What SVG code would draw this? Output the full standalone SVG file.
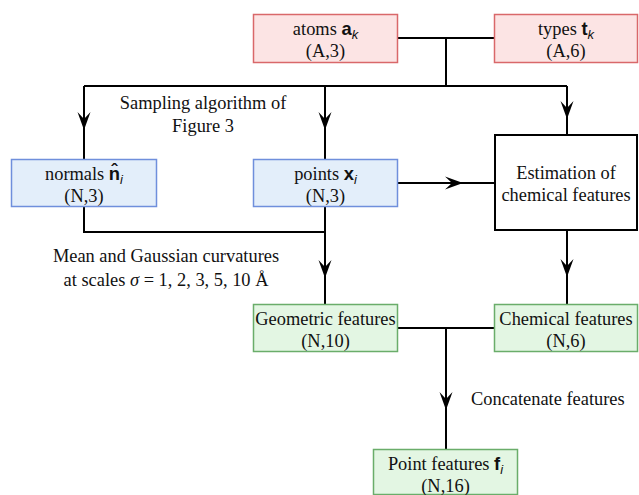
<svg xmlns="http://www.w3.org/2000/svg" width="639" height="495" viewBox="0 0 639 495">
<style>
  .t { font-family: "Liberation Serif", "Times New Roman", serif; font-size: 18.4px; fill: #111; text-anchor: middle; }
  .tl { font-family: "Liberation Serif", "Times New Roman", serif; font-size: 18.4px; fill: #111; }
  .m { font-family: "Liberation Sans", "DejaVu Sans", sans-serif; font-weight: bold; font-size: 18.4px; }
  .s { font-family: "Liberation Sans", "DejaVu Sans", sans-serif; font-style: italic; font-size: 13px; }
  .red { fill: #fce4e4; stroke: #d9686a; stroke-width: 1.5; }
  .blue { fill: #e3eefa; stroke: #6f8fdc; stroke-width: 1.5; }
  .green { fill: #e3f6e3; stroke: #6aad6a; stroke-width: 1.5; }
  .black { fill: #ffffff; stroke: #000; stroke-width: 2; }
  .c { fill: none; stroke: #000; stroke-width: 2; }
  .a { fill: none; stroke: #000; stroke-width: 2; marker-mid: url(#arr); }
</style>
<defs>
  <marker id="arr" markerUnits="userSpaceOnUse" viewBox="-19 -8 20 16" refX="0" refY="0" markerWidth="20" markerHeight="16" orient="auto">
    <path d="M0,0 L-18,-6.5 L-11,0 L-18,6.5 Z" fill="#000"/>
  </marker>
</defs>

<g id="connectors">
  <path class="c" d="M398,38 H494"/>
  <path class="c" d="M446,38 V86"/>
  <path class="c" d="M84,86 H567"/>
  <path class="a" d="M84,86 V130 V159"/>
  <path class="a" d="M325,86 V130 V159"/>
  <path class="a" d="M567,86 V119 V134"/>
  <path class="a" d="M398,183 H463 H494"/>
  <path class="c" d="M84,207 V232 H325"/>
  <path class="a" d="M325,207 V278 V304"/>
  <path class="a" d="M567,231 V277 V304"/>
  <path class="c" d="M398,328 H494"/>
  <path class="a" d="M446,328 V410 V449"/>
</g>

<g id="atoms">
  <rect class="red" x="253.5" y="14.5" width="144" height="48"/>
  <text class="t" x="325.5" y="35">atoms <tspan class="m">a</tspan><tspan class="s" dy="4">k</tspan></text>
  <text class="t" x="325.5" y="57">(A,3)</text>
</g>
<g id="types">
  <rect class="red" x="494.5" y="14.5" width="143" height="48"/>
  <text class="t" x="566" y="35">types <tspan class="m">t</tspan><tspan class="s" dy="4">k</tspan></text>
  <text class="t" x="566" y="57">(A,6)</text>
</g>
<g id="normals">
  <rect class="blue" x="11.5" y="159.5" width="145" height="47"/>
  <text class="t" x="84" y="180">normals <tspan class="m">n̂</tspan><tspan class="s" dy="4">i</tspan></text>
  <text class="t" x="84" y="202">(N,3)</text>
</g>
<g id="points">
  <rect class="blue" x="253.5" y="159.5" width="144" height="47"/>
  <text class="t" x="325.5" y="180">points <tspan class="m">x</tspan><tspan class="s" dy="4">i</tspan></text>
  <text class="t" x="325.5" y="202">(N,3)</text>
</g>
<g id="estimation">
  <rect class="black" x="495" y="135" width="142" height="95"/>
  <text class="t" x="566" y="179">Estimation of</text>
  <text class="t" x="566" y="201">chemical features</text>
</g>
<g id="geometric">
  <rect class="green" x="253.5" y="304.5" width="144" height="47"/>
  <text class="t" x="325.5" y="325">Geometric features</text>
  <text class="t" x="325.5" y="347">(N,10)</text>
</g>
<g id="chemical">
  <rect class="green" x="494.5" y="304.5" width="143" height="47"/>
  <text class="t" x="566" y="325">Chemical features</text>
  <text class="t" x="566" y="347">(N,6)</text>
</g>
<g id="pointfeatures">
  <rect class="green" x="373.5" y="449.5" width="144" height="45"/>
  <text class="t" x="445.5" y="470">Point features <tspan class="m">f</tspan><tspan class="s" dy="4">i</tspan></text>
  <text class="t" x="445.5" y="492">(N,16)</text>
</g>

<g id="labels">
  <text class="t" x="203" y="109">Sampling algorithm of</text>
  <text class="t" x="203" y="132">Figure 3</text>
  <text class="t" x="166" y="262">Mean and Gaussian curvatures</text>
  <text class="t" x="166" y="286">at scales <tspan font-style="italic">σ</tspan> = 1, 2, 3, 5, 10 Å</text>
  <text class="tl" x="471" y="405">Concatenate features</text>
</g>
</svg>
